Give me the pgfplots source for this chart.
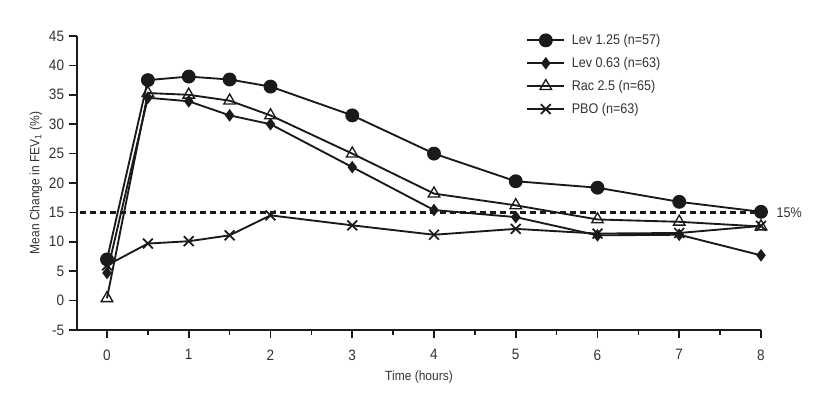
\documentclass[border=0pt]{standalone}
\usepackage{fontspec}
\setmainfont{Liberation Sans}[FakeStretch=0.9]
\usepackage{pgfplots}
\pgfplotsset{compat=1.18}
\definecolor{ink}{HTML}{1A1A1A}
\definecolor{txt}{HTML}{333333}
\begin{document}
\fontsize{10.5}{12.6}\selectfont
\begin{tikzpicture}[x=1pt,y=1pt]
\path[use as bounding box] (-57.75,-48) rectangle (564,247.5);
\begin{axis}[
  at={(0,0)}, anchor=south west,
  scale only axis, width=513pt, height=220.5pt,
  xmin=-0.367, xmax=8, ymin=-5, ymax=45,
  axis x line*=bottom, axis y line*=left,
  axis line style={-, ink, line width=1.3pt},
  every outer x axis line/.append style={-},
  every outer y axis line/.append style={-},
  xtick={0,...,8}, minor xtick={0.5,1.5,...,7.5},
  ytick={-5,0,...,45},
  tick align=outside,
  major tick length=6pt, minor tick length=3.5pt,
  tick style={ink, line width=1.3pt},
  tick label style={font=\fontsize{11.3}{13}\selectfont, text=txt},
  xticklabel style={yshift=-5pt},
  /pgf/number format/assume math mode=true,
  xlabel={Time (hours)}, ylabel={Mean Change in FEV\textsubscript{1} (\%)},
  label style={font=\fontsize{10}{12}\selectfont, text=txt},
  xlabel style={yshift=-1pt},
  ylabel style={yshift=-2pt},
  clip=false,
  legend cell align=left,
  legend style={draw=none, fill=none, at={(0.651,1.025)}, anchor=north west,
    font=\fontsize{10.5}{12}\selectfont, text=txt, row sep=4pt,
    /tikz/every odd column/.append style={column sep=3pt}},
  legend image code/.code={\draw[mark repeat=2,mark phase=2,#1] plot coordinates {(0pt,0pt) (13.75pt,0pt) (27.5pt,0pt)};},
  every axis plot/.append style={ink, line width=1.4pt},
]
\addplot[forget plot, ink, line width=1.8pt, dash pattern=on 4.5pt off 3pt, mark=none] coordinates {(-0.33,15) (8,15)};
\addplot[mark=*, mark size=4.5pt, mark options={fill=ink}] coordinates {
(0,7.0) (0.5,37.5) (1,38.1) (1.5,37.6) (2,36.4) (3,31.5) (4,25.0) (5,20.3) (6,19.2) (7,16.8) (8,15.1)};
\addlegendentry{Lev 1.25 (n=57)}
\addplot[mark=diamond*, mark size=3.6pt, mark options={fill=ink}] coordinates {
(0,4.7) (0.5,34.5) (1,33.9) (1.5,31.5) (2,30.0) (3,22.7) (4,15.4) (5,14.2) (6,11.1) (7,11.2) (8,7.7)};
\addlegendentry{Lev 0.63 (n=63)}
\addplot[mark=triangle, mark size=5pt, mark options={fill=white, line width=1pt}] coordinates {
(0,0.4) (0.5,35.3) (1,35.0) (1.5,34.0) (2,31.5) (3,25.0) (4,18.2) (5,16.2) (6,13.8) (7,13.4) (8,12.6)};
\addlegendentry{Rac 2.5 (n=65)}
\addplot[mark=x, mark size=5.2pt, mark options={line width=1.3pt}] coordinates {
(0,6.0) (0.5,9.7) (1,10.1) (1.5,11.1) (2,14.5) (3,12.8) (4,11.2) (5,12.2) (6,11.4) (7,11.5) (8,12.7)};
\addlegendentry{PBO (n=63)}
\node[anchor=west, text=txt, font=\fontsize{10.5}{12}\selectfont] at (axis cs:8,15) [xshift=8pt] {15\%};
\end{axis}
\end{tikzpicture}
\end{document}
